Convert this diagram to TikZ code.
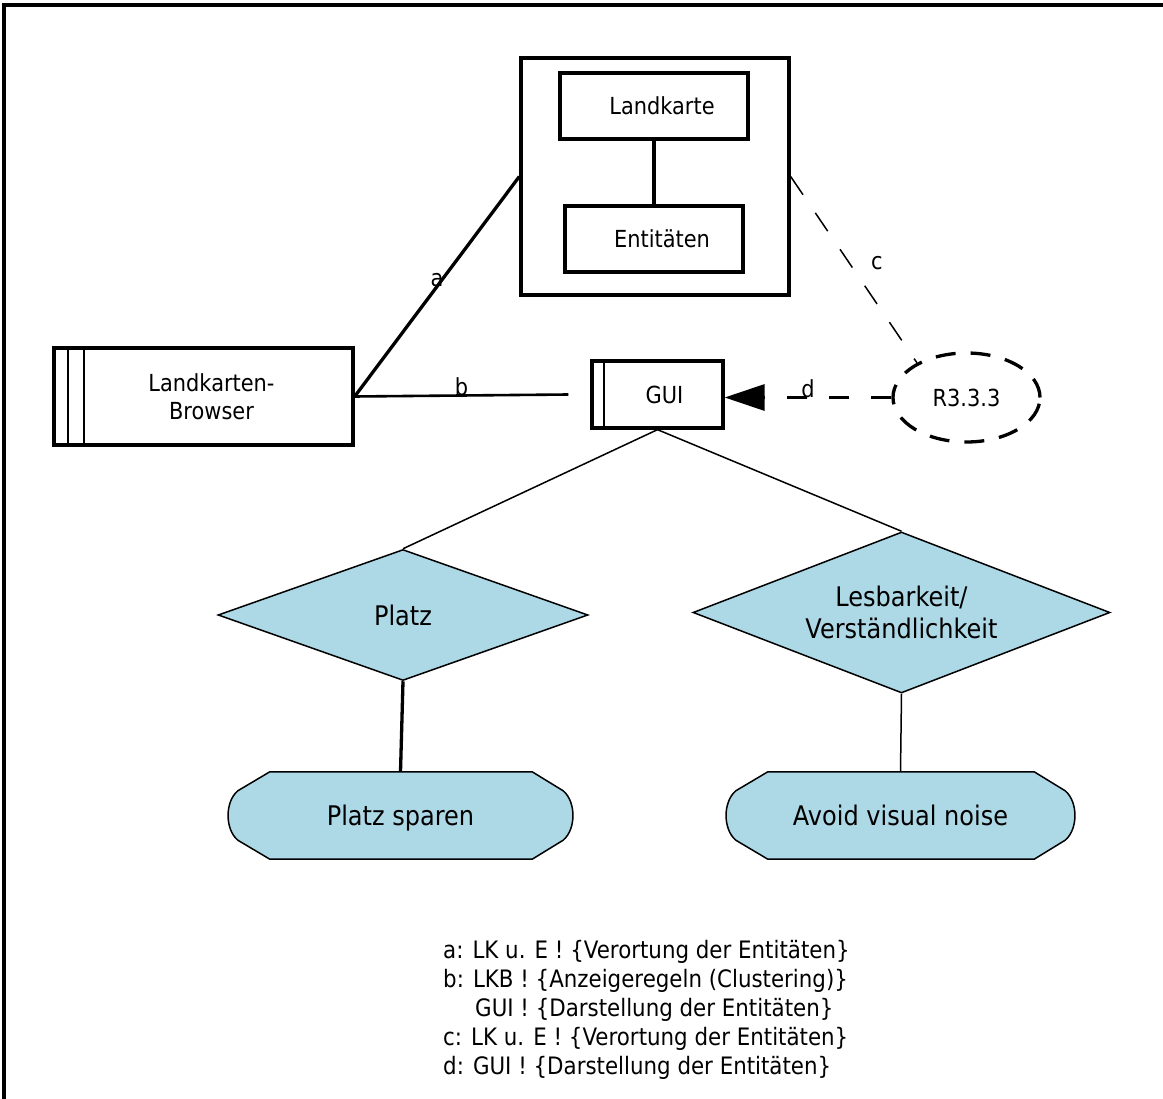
\documentclass[tikz,border=0pt]{standalone}
\usepackage{fontspec}
\setmainfont{DejaVu Sans}[FakeStretch=0.89]
\usetikzlibrary{shapes.geometric,arrows.meta,calc,backgrounds}
\definecolor{goalblue}{HTML}{ADD8E6}
\newcommand\goalpath[1]{%
  \begin{scope}[on background layer]
    \filldraw[fill=goalblue, line width=1.5pt]
      ($(#1.north west)+(44,0)$) -- ($(#1.north east)+(-43,0)$)
      -- ($(#1.north east)+(-12,19)$)
      .. controls ($(#1.north east)+(1,30)$) and ($(#1.south east)+(1,-30)$) ..
      ($(#1.south east)+(-12,-19)$) -- ($(#1.south east)+(-43,0)$)
      -- ($(#1.south west)+(44,0)$) -- ($(#1.south west)+(12,-19)$)
      .. controls ($(#1.south west)+(-1,-30)$) and ($(#1.north west)+(-1,30)$) ..
      ($(#1.north west)+(12,19)$) -- cycle;
  \end{scope}}
\begin{document}
\begin{tikzpicture}[x=1pt,y=-1pt,
  sm/.style={font=\fontsize{23.5}{28}\selectfont},
  md/.style={font=\fontsize{27}{32}\selectfont},
  box/.style={draw, line width=3.3pt, rectangle, inner sep=0pt},
  softgoal/.style={diamond, draw, line width=1.5pt, fill=goalblue, shape aspect=2.6,
    inner sep=0pt, align=center, md},
  goalnode/.style={rectangle, inner sep=0pt, text depth=0pt, md},
  ellnode/.style={ellipse, draw, line width=3.3pt, dash pattern=on 20pt off 15pt, inner sep=0pt, sm},
  lbl/.style={sm, inner sep=1pt},
  thickline/.style={line width=3.3pt},
  midline/.style={line width=2.6pt},
  thinline/.style={line width=1.5pt},
  ]
\useasboundingbox (0,0) rectangle (1163,1099);
% frame
\draw[line width=3.3pt] (4,1120) -- (4,5) -- (1180,5);

% map container
\node[box, minimum width=268, minimum height=237] (outer) at (655,176.5) {};
\node[box, minimum width=188, minimum height=66,
  label={[sm,xshift=8pt]center:Landkarte}] (lk) at (654,106) {};
\node[box, minimum width=178, minimum height=66,
  label={[sm,xshift=8pt]center:Entitäten}] (ent) at (654,239) {};
\draw[thickline] (lk.south) -- (ent.north);

% Landkarten-Browser
\node[box, minimum width=299, minimum height=97,
  label={[sm,align=center,xshift=8pt]center:{Landkarten-\\Browser}}] (lkb) at (203.5,396.5) {};
\draw[line width=2.2pt] ([xshift=16pt]lkb.north west) -- ([xshift=16pt]lkb.south west);
\draw[line width=2.2pt] ([xshift=32pt]lkb.north west) -- ([xshift=32pt]lkb.south west);

% GUI
\node[box, minimum width=131, minimum height=67,
  label={[sm,xshift=7pt]center:GUI}] (gui) at (657.5,394.5) {};
\draw[line width=2.2pt] ([xshift=14pt]gui.north west) -- ([xshift=14pt]gui.south west);

% R3.3.3
\node[ellnode, minimum width=147, minimum height=89] (ell) at (966.5,397.5) {R3.3.3};

% softgoals
\node[softgoal, minimum width=370, minimum height=131] (platz) at (403,615) {Platz};
\node[softgoal, minimum width=417, minimum height=161] (lesb) at (901.5,612.5) {Lesbarkeit/\\Verständlichkeit};

% goals
\node[goalnode, minimum width=349, minimum height=87] (sparen) at (400.5,815.5) {Platz sparen};
\goalpath{sparen}
\node[goalnode, minimum width=353, minimum height=87] (avoid) at (900.5,815.5) {Avoid visual noise};
\goalpath{avoid}

% connectors
\draw[thickline] (lkb.east) -- node[lbl, pos=0.5, yshift=6pt] {a} (outer.west);
\draw[midline] (lkb.east) -- node[lbl, pos=0.5, yshift=9pt] {b} ([xshift=-22pt]gui.west);
\draw[thinline, dash pattern=on 22pt off 22pt] (outer.east) -- node[lbl, pos=0.5, xshift=23pt, yshift=7pt] {c} (ell.145);
\draw[thickline, dash pattern=on 20pt off 22pt, -{Triangle[length=40pt,width=26pt]}]
  (ell.west) -- node[lbl, pos=0.5, yshift=9pt] {d} (ell.west -| gui.east);
\draw[thinline] (gui.south) -- (platz.north);
\draw[thinline] (gui.south) -- (lesb.north);
\draw[thickline] (platz.south) -- (sparen.north);
\draw[thinline] (lesb.south) -- (avoid.north);

% legend
\node[anchor=north west, align=left, inner sep=0pt, font=\fontsize{24}{29}\selectfont] (legend) at (443,940)
{a: LK u. E ! \{Verortung der Entitäten\}\\
 b: LKB ! \{Anzeigeregeln (Clustering)\}\\
 \hspace*{32pt}GUI ! \{Darstellung der Entitäten\}\\
 c: LK u. E ! \{Verortung der Entitäten\}\\
 d: GUI ! \{Darstellung der Entitäten\}};
\end{tikzpicture}
\end{document}
